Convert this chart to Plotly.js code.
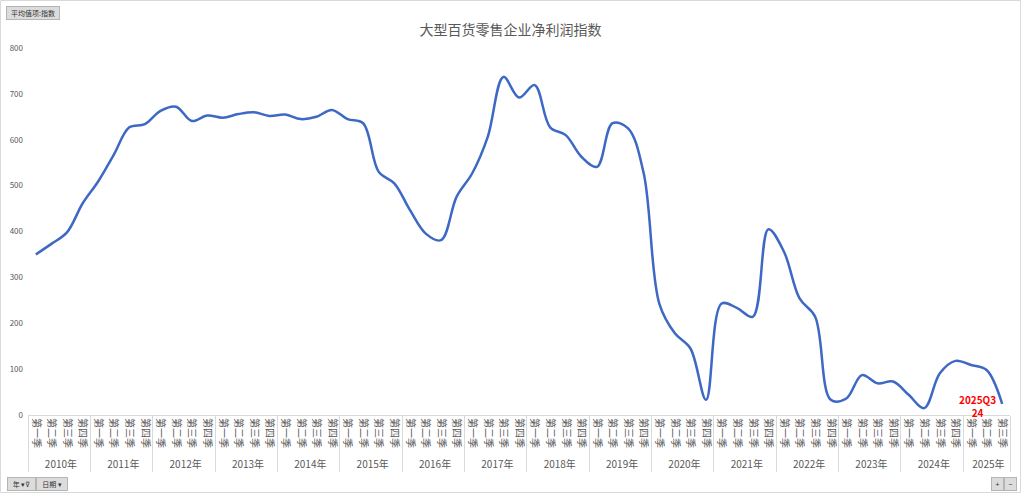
<!DOCTYPE html>
<html>
<head>
<meta charset="utf-8">
<script src="https://cdn.plot.ly/plotly-3.0.1.min.js"></script>
<style>
html,body{margin:0;padding:0;background:#fff;}
#chart{width:1021px;height:493px;}
</style>
</head>
<body>
<div id="chart"></div>
<script>
// ---- data ----
const years = ['2010年','2011年','2012年','2013年','2014年','2015年','2016年','2017年','2018年','2019年','2020年','2021年','2022年','2023年','2024年','2025年'];
const quarters = ['第一季','第二季','第三季','第四季'];
const values2010 = [350, 373, 398, 461];
const values2011 = [509, 567, 627, 634];
const values2012 = [663, 672, 641, 653];
const values2013 = [648, 656, 660, 652];
const values2014 = [655, 645, 650, 665];
const values2015 = [645, 636, 530, 505];
const values2016 = [447, 396, 381, 476];
const values2017 = [527, 607, 737, 692];
const values2018 = [719, 627, 610, 563];
const values2019 = [541, 636, 625, 527];
const values2020 = [243, 178, 145, 33];
const values2021 = [243, 233, 214, 405];
const values2022 = [356, 254, 214, 33];
const values2023 = [36, 87, 69, 73];
const values2024 = [44, 15, 91, 118];
const values2025 = [109, 98, 24];
const yTicks = [0,100,200,300,400,500,600,700,800];
const lastLabel = '2025Q3';

const perYear = [values2010,values2011,values2012,values2013,values2014,values2015,values2016,values2017,values2018,values2019,values2020,values2021,values2022,values2023,values2024,values2025];

const xOuter = [], xInner = [], yVals = [];
perYear.forEach((arr, i) => {
  arr.forEach((v, q) => {
    xOuter.push(years[i]);
    xInner.push(quarters[q]);
    yVals.push(v);
  });
});
const lastIdx = yVals.length - 1;

const font = 'Noto Sans CJK SC, "Microsoft YaHei", sans-serif';
const grey = '#595959';

const trace = {
  type: 'scatter',
  mode: 'lines',
  x: [xOuter, xInner],
  y: yVals,
  line: {color: '#3d68c4', width: 2.5, shape: 'spline', smoothing: 1},
  hoverinfo: 'y'
};

// pixel -> paper helpers (plot area 28..1010, 48..415)
const L = 28, R = 1010, T = 48, B = 415;
const px = v => (v - L) / (R - L);
const py = v => (B - v) / (B - T);

const btn = (text, xpx, ypx, w) => ({
  xref: 'paper', yref: 'paper', x: px(xpx), y: py(ypx),
  xanchor: 'left', yanchor: 'top', showarrow: false,
  text: text, font: {family: font, size: 7, color: '#333'},
  bgcolor: '#dcdcdc', bordercolor: '#b5b5b5', borderwidth: 1, borderpad: 1,
  width: w, align: 'center'
});

const layout = {
  width: 1021, height: 493,
  margin: {l: L, r: 1021 - R, t: T, b: 493 - B},
  paper_bgcolor: '#ffffff', plot_bgcolor: '#ffffff',
  showlegend: false,
  title: {text: '大型百货零售企业净利润指数', x: 0.5, xanchor: 'center', y: 0.938, yanchor: 'middle',
          font: {family: font, size: 14, color: grey}},
  xaxis: {
    type: 'multicategory',
    tickangle: 90,
    tickfont: {family: font, size: 10, color: grey},
    showline: true, linecolor: '#d9d9d9', linewidth: 1,
    showgrid: false, zeroline: false,
    showdividers: true, dividercolor: '#d9d9d9', dividerwidth: 1,
    ticks: '', range: [-0.5, 62.5]
  },
  yaxis: {
    range: [0, 800], tickvals: yTicks, ticktext: yTicks.map(String),
    tickfont: {family: font, size: 8, color: grey},
    showgrid: false, zeroline: false, showline: false, ticks: '',
    ticklabelstandoff: 4, fixedrange: true
  },
  annotations: [
    {
      x: lastIdx, y: yVals[lastIdx], xref: 'x', yref: 'y',
      text: '<b>' + lastLabel + '<br>' + yVals[lastIdx] + '</b>',
      showarrow: false, xshift: -25, yshift: -2,
      font: {family: font, size: 10, color: '#ff0000'}
    },
    btn('平均值项:指数', 6, 6, 50),
    btn('年 ▾⊽', 7, 477, 25),
    btn('日期 ▾', 36, 477, 28),
    btn('+', 991, 477, 9),
    btn('−', 1004, 477, 9)
  ],
  shapes: [
    {type: 'rect', xref: 'paper', yref: 'paper', x0: px(0.5), x1: px(1020.5), y0: py(0.5), y1: py(492.5),
     line: {color: '#d9d9d9', width: 1}, fillcolor: 'rgba(0,0,0,0)', layer: 'below'}
  ]
};

Plotly.newPlot('chart', [trace], layout, {displayModeBar: false, staticPlot: true});
</script>
</body>
</html>
